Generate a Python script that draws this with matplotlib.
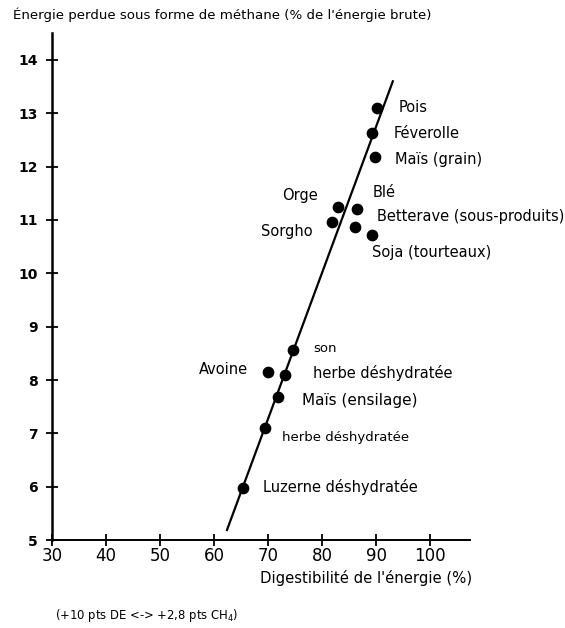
import matplotlib
matplotlib.use("Agg")
import matplotlib.pyplot as plt

plt.rcParams['font.family'] = ['DejaVu Sans']

# ---- data ----
feeds = ["Pois", "Féverolle", "Maïs (grain)", "Blé", "Orge",
         "Betterave (sous-produits)", "Sorgho", "Soja (tourteaux)",
         "son", "Avoine", "herbe déshydratée", "Maïs (ensilage)",
         "herbe déshydratée", "Luzerne déshydratée"]
digestibility = [90.2, 89.3, 89.8, 86.5, 83.0, 86.1, 81.8, 89.3,
                 74.6, 70.0, 73.1, 71.9, 69.4, 65.4]
methane = [13.1, 12.63, 12.19, 11.2, 11.25, 10.87, 10.97, 10.72,
           8.56, 8.15, 8.1, 7.68, 7.1, 5.98]

line_x = [62.4, 93.1]
line_y = [5.19, 13.6]

x_ticks = [30, 40, 50, 60, 70, 80, 90, 100]
y_ticks = [5, 6, 7, 8, 9, 10, 11, 12, 13, 14]

# ---- layout (label offsets in pixels, alignment, font size) ----
label_offsets = [(21, 0), (21, 0), (20, -3), (15, 17), (-20, 11),
                 (22, 10), (-19, -10), (0, -18), (20, 2), (-20, 3),
                 (28, 2), (24, -3), (17, -9), (20, 1)]
label_ha = ["left", "left", "left", "left", "right", "left", "right",
            "left", "left", "right", "left", "left", "left", "left"]
label_size = [10.5, 10.5, 10.5, 10.5, 10.5, 10.5, 10.5, 10.5,
              9.5, 10.5, 10.5, 11, 9.5, 10.5]

fig = plt.figure(figsize=(5.65, 6.28), dpi=100)
ax = fig.add_axes([0.092, 0.140, 0.740, 0.807])

ax.plot(line_x, line_y, color="black", lw=1.6)
ax.scatter(digestibility, methane, s=55, color="black", zorder=3)

for name, x, y, off, ha, fs in zip(feeds, digestibility, methane,
                                   label_offsets, label_ha, label_size):
    ax.annotate(name, (x, y), xytext=off, textcoords="offset pixels",
                ha=ha, va="center", fontsize=fs, color="black")

ax.set_xlim(30, 107.4)
ax.set_ylim(5, 14.5)

for s in ["top", "right"]:
    ax.spines[s].set_visible(False)
ax.spines["left"].set_linewidth(1.8)
ax.spines["bottom"].set_linewidth(1.4)

ax.set_xticks(x_ticks)
ax.set_xticklabels([str(v) for v in x_ticks], fontsize=12)
ax.set_yticks(y_ticks)
ax.set_yticklabels([str(v) for v in y_ticks], fontsize=10, fontweight="bold")
ax.tick_params(axis="both", direction="inout", length=8, width=1.3,
               color="black")
ax.tick_params(axis="x", pad=1)
ax.tick_params(axis="y", pad=6)

fig.text(13 / 565, 1 - 15 / 628,
         "Énergie perdue sous forme de méthane (% de l'énergie brute)",
         ha="left", va="center", fontsize=9.6)
fig.text(260 / 565, 1 - 578 / 628, "Digestibilité de l'énergie (%)",
         ha="left", va="center", fontsize=10.7)
fig.text(55 / 565, 1 - 615 / 628, "(+10 pts DE <-> +2,8 pts CH$_4$)",
         ha="left", va="center", fontsize=8.4)

fig.savefig("out.png", dpi=100)
